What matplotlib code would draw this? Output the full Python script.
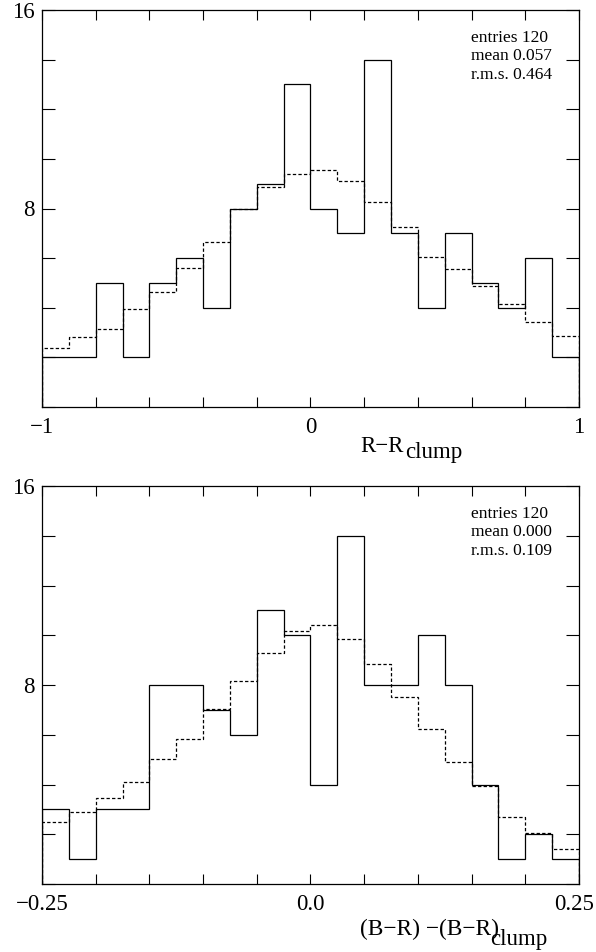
#!/usr/bin/env python3
"""
Two residual histograms (observed counts vs. smoothed model) stacked vertically.
Writes out.png
"""
import numpy as np
import matplotlib
matplotlib.use("Agg")
import matplotlib.pyplot as plt
from matplotlib.ticker import MultipleLocator
from matplotlib.transforms import ScaledTranslation

# top panel: R - R_clump, 20 bins over [-1, 1]
top_edges = np.linspace(-1.0, 1.0, 21)
top_counts = [2, 2, 5, 2, 5, 6, 4, 8, 9, 13,
              8, 7, 14, 7, 4, 7, 5, 4, 6, 2]
top_model = [2.38, 2.83, 3.16, 3.94, 4.62, 5.61, 6.66, 8.0, 8.88, 9.39,
             9.55, 9.10, 8.27, 7.26, 6.03, 5.58, 4.88, 4.15, 3.41, 2.85]
top_xticks = [-1, 0, 1]
top_xticklabels = ["\u22121", "0", "1"]
top_stats = ["entries 120", "mean 0.057", "r.m.s. 0.464"]

# bottom panel: (B-R) - (B-R)_clump, 20 bins over [-0.25, 0.25]
bot_edges = np.linspace(-0.25, 0.25, 21)
bot_counts = [3, 1, 3, 3, 8, 8, 7, 6, 11, 10,
              4, 14, 8, 8, 10, 8, 4, 1, 2, 1]
bot_model = [2.51, 2.90, 3.47, 4.11, 5.03, 5.81, 7.05, 8.16, 9.28, 10.18,
             10.42, 9.86, 8.83, 7.53, 6.23, 4.90, 3.95, 2.68, 2.06, 1.42]
bot_xticks = [-0.25, 0.0, 0.25]
bot_xticklabels = ["\u22120.25", "0.0", "0.25"]
bot_stats = ["entries 120", "mean 0.000", "r.m.s. 0.109"]

yticks = [8, 16]
yticklabels = ["8", "16"]

W, H = 596, 952
FONT = "Liberation Serif"
plt.rcParams["font.family"] = [FONT, "DejaVu Serif"]
plt.rcParams["lines.scale_dashes"] = False


def px(x, y):
    # pixel (from top-left) -> figure fraction
    return x / W, 1 - y / H


def draw_panel(ax, edges, counts, model, xticks, xlabels, minor_step, stats, top_px):
    ax.stairs(counts, edges, color="black", linewidth=0.9)
    ax.stairs(model, edges, color="black", linewidth=0.9, linestyle=(0, (2.4, 1.6)))
    ax.set_xlim(edges[0], edges[-1])
    ax.set_ylim(0, 16)
    ax.set_xticks(xticks, xlabels)
    ax.xaxis.set_minor_locator(MultipleLocator(minor_step))
    ax.set_yticks(yticks, yticklabels)
    ax.yaxis.set_minor_locator(MultipleLocator(2))
    ax.tick_params(which="both", direction="in", top=True, right=True,
                   width=0.8, labelsize=16.5)
    ax.tick_params(axis="x", which="both", length=7.2, pad=7)
    ax.tick_params(axis="y", which="both", length=9.4, pad=5)
    for s in ax.spines.values():
        s.set_linewidth(0.9)
    for i, line in enumerate(stats):
        fig.text(*px(471, top_px + 32 + 18.4 * i), line, fontsize=12.5,
                 ha="left", va="baseline")


fig = plt.figure(figsize=(W / 100, H / 100), dpi=100)
left, width = 42 / W, 537 / W
ax1 = fig.add_axes([left, 1 - 407 / H, width, 397 / H])
ax2 = fig.add_axes([left, 1 - 884 / H, width, 398 / H])

draw_panel(ax1, top_edges, top_counts, top_model, top_xticks, top_xticklabels,
           0.2, top_stats, 10)
draw_panel(ax2, bot_edges, bot_counts, bot_model, bot_xticks, bot_xticklabels,
           0.05, bot_stats, 486)

# nudge the last bottom label left a little so it is not cut by the edge
last = ax2.get_xticklabels()[-1]
last.set_transform(last.get_transform() + ScaledTranslation(-0.05, 0, fig.dpi_scale_trans))

# axis titles drawn as two pieces so the subscript sits like the original
fig.text(*px(360, 452), "R\u2212R", fontsize=16.5, ha="left", va="baseline")
fig.text(*px(405, 458), "clump", fontsize=16.5, ha="left", va="baseline")
fig.text(*px(360, 935), "(B\u2212R) \u2212(B\u2212R)", fontsize=16.8, ha="left", va="baseline")
fig.text(*px(490, 945), "clump", fontsize=16.5, ha="left", va="baseline")

fig.savefig("out.png", dpi=100)
